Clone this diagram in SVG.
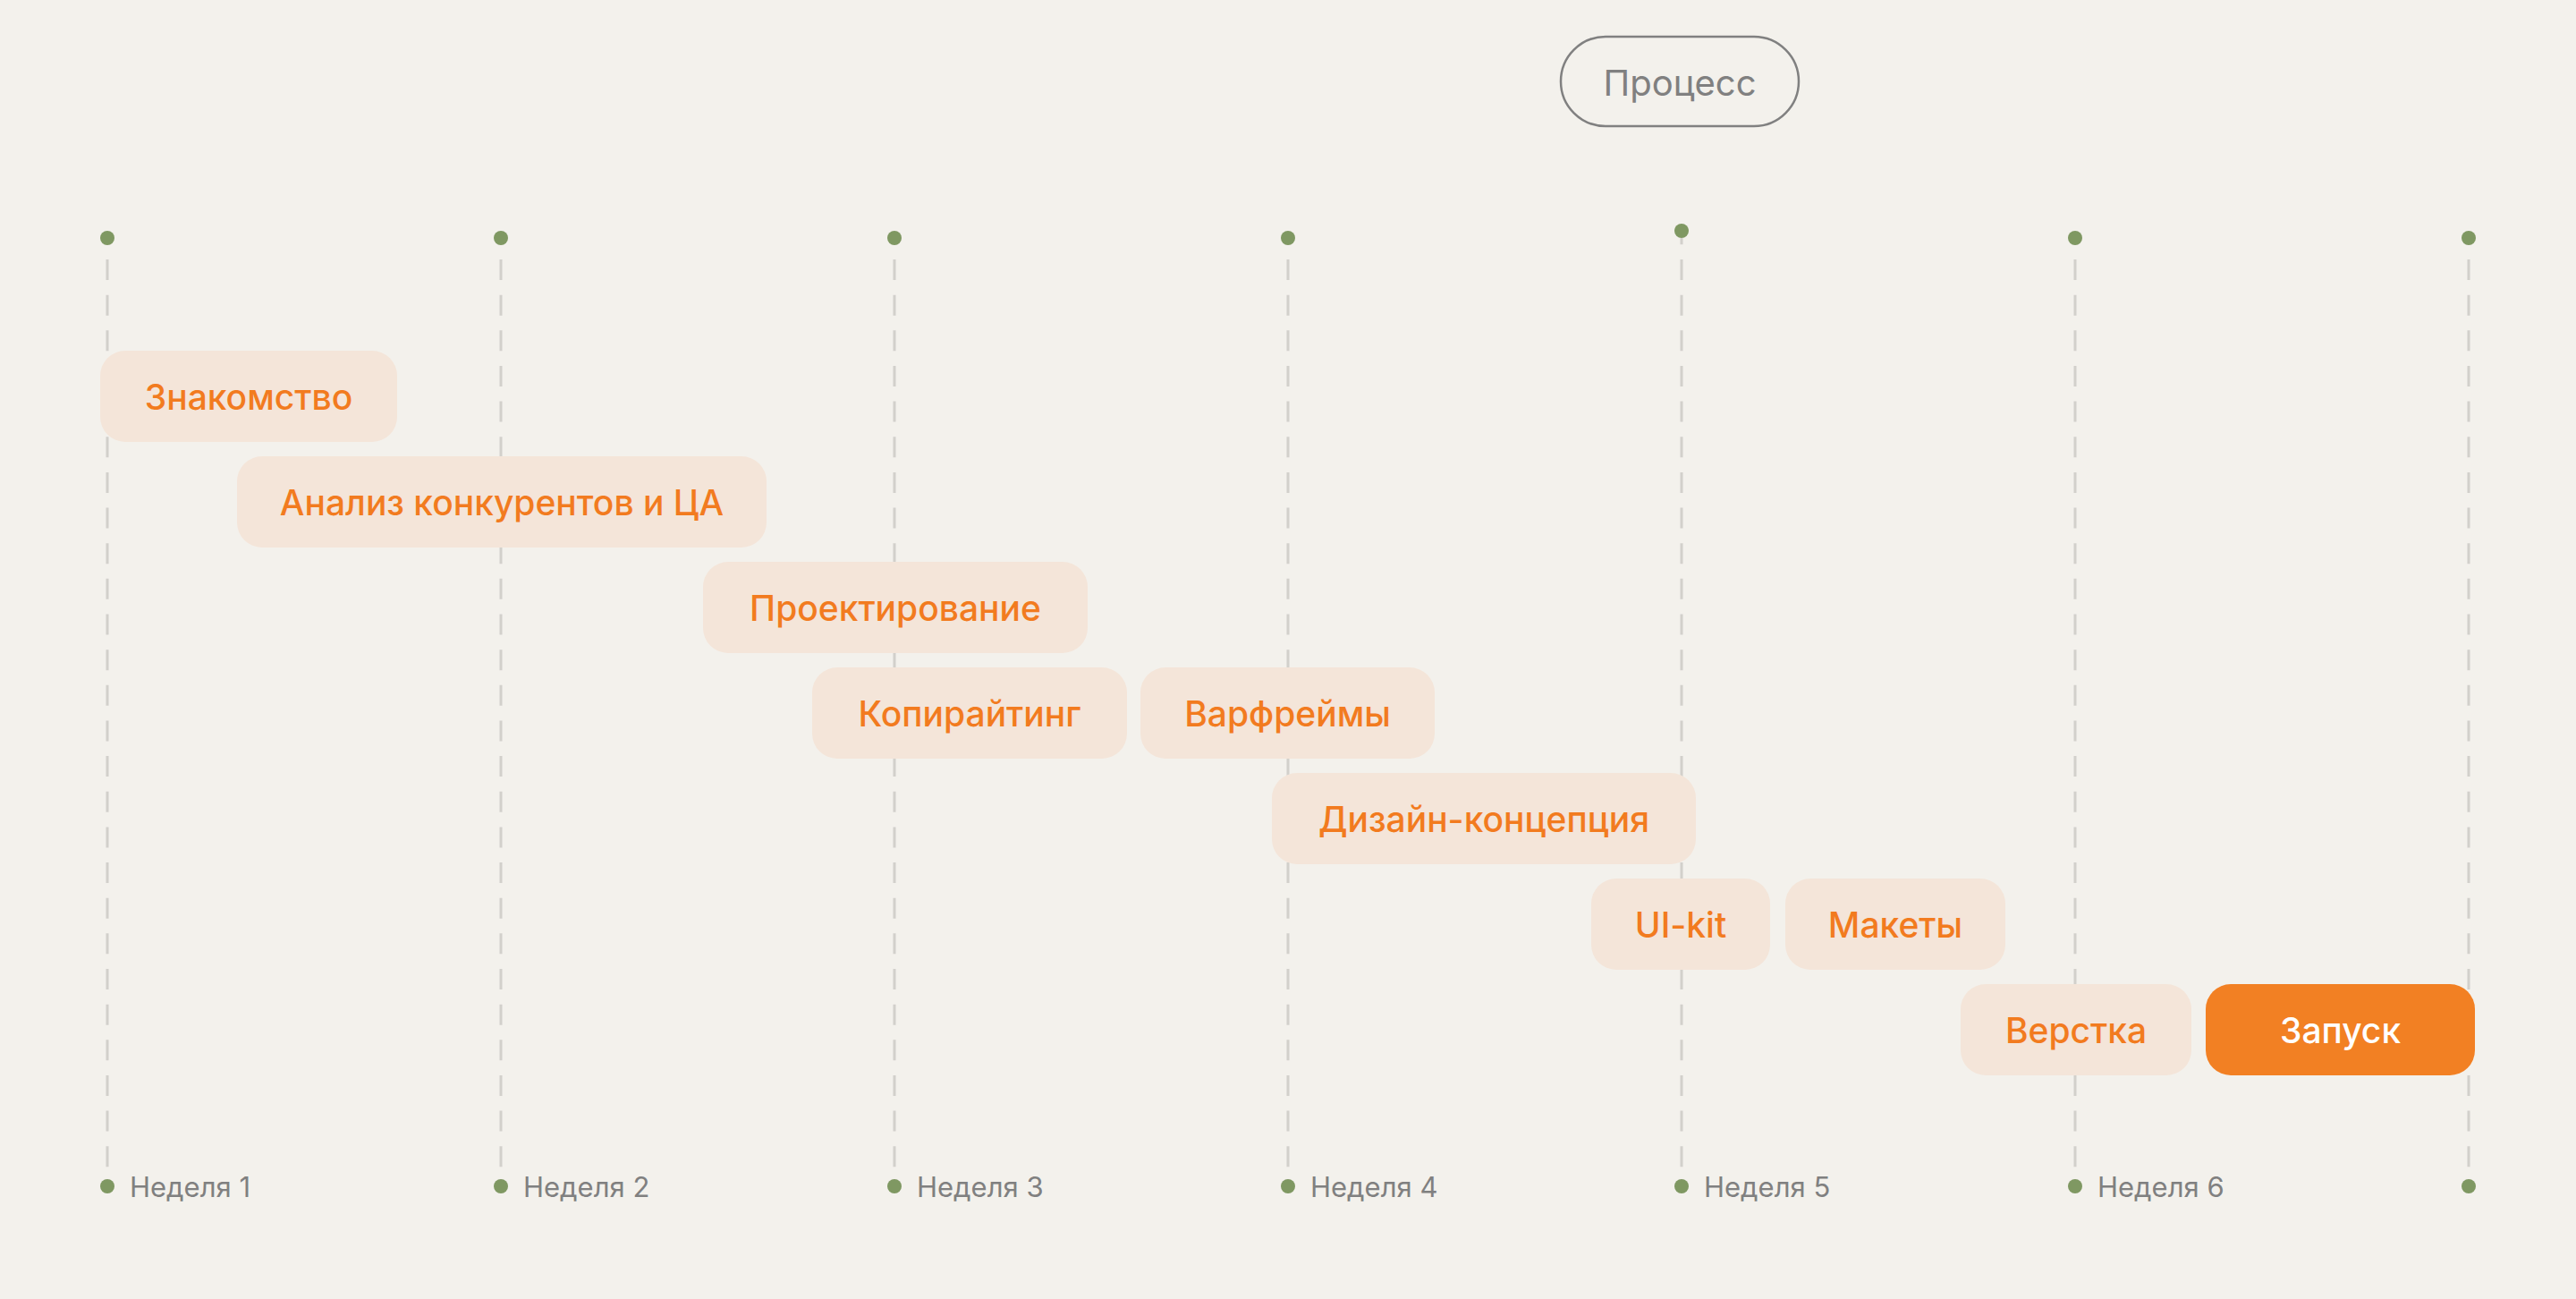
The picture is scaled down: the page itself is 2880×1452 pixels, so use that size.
<svg xmlns="http://www.w3.org/2000/svg" width="2880" height="1452" viewBox="0 0 2880 1452">
<style>
.bg{fill:#f3f1ec}
.grid{stroke:#d2d0cb;stroke-width:3;stroke-dasharray:23 16.65;stroke-dashoffset:15.65}
.dot{fill:#7f9862}
.bar{fill:#f4e5d9}
.bar-main{fill:#f28023}
.lbl{font-family:Inter,"Noto Sans","Liberation Sans",sans-serif;font-size:39px;font-weight:500;fill:#f27b1f;text-anchor:middle}
.lbl-main{fill:#ffffff}
.wk{font-family:Inter,"Noto Sans","Liberation Sans",sans-serif;font-size:31px;fill:#808080}
.pill{fill:none;stroke:#808080;stroke-width:2.5}
.ptxt{font-family:Inter,"Noto Sans","Liberation Sans",sans-serif;font-size:40px;fill:#808080;text-anchor:middle}
</style>
<rect class="bg" x="0" y="0" width="2880" height="1452"/>
<g id="connectors">
<line class="grid" x1="120" y1="266" x2="120" y2="1312"/>
<line class="grid" x1="560" y1="266" x2="560" y2="1312"/>
<line class="grid" x1="1000" y1="266" x2="1000" y2="1312"/>
<line class="grid" x1="1440" y1="266" x2="1440" y2="1312"/>
<line class="grid" x1="1880" y1="266" x2="1880" y2="1312"/>
<line class="grid" x1="2320" y1="266" x2="2320" y2="1312"/>
<line class="grid" x1="2760" y1="266" x2="2760" y2="1312"/>
</g>
<g id="top-dots">
<circle class="dot" cx="120" cy="266" r="8"/>
<circle class="dot" cx="560" cy="266" r="8"/>
<circle class="dot" cx="1000" cy="266" r="8"/>
<circle class="dot" cx="1440" cy="266" r="8"/>
<circle class="dot" cx="1880" cy="258" r="8"/>
<circle class="dot" cx="2320" cy="266" r="8"/>
<circle class="dot" cx="2760" cy="266" r="8"/>
</g>
<g id="process">
<rect class="pill" x="1745" y="41" width="266" height="100" rx="50"/>
<text class="ptxt" x="1878" y="107">Процесс</text>
</g>
<g id="task-znakomstvo">
<rect class="bar" x="112" y="392" width="332" height="102" rx="28"/>
<text class="lbl" x="278" y="458">Знакомство</text>
</g>
<g id="task-analiz">
<rect class="bar" x="265" y="510" width="592" height="102" rx="28"/>
<text class="lbl" x="561" y="576">Анализ конкурентов и ЦА</text>
</g>
<g id="task-proektirovanie">
<rect class="bar" x="786" y="628" width="430" height="102" rx="28"/>
<text class="lbl" x="1001" y="694">Проектирование</text>
</g>
<g id="task-kopirajting">
<rect class="bar" x="908" y="746" width="352" height="102" rx="28"/>
<text class="lbl" x="1084" y="812">Копирайтинг</text>
</g>
<g id="task-varfrejmy">
<rect class="bar" x="1275" y="746" width="329" height="102" rx="28"/>
<text class="lbl" x="1439.5" y="812">Варфреймы</text>
</g>
<g id="task-dizajn">
<rect class="bar" x="1422" y="864" width="474" height="102" rx="28"/>
<text class="lbl" x="1659" y="930">Дизайн-концепция</text>
</g>
<g id="task-uikit">
<rect class="bar" x="1779" y="982" width="200" height="102" rx="28"/>
<text class="lbl" x="1879" y="1048">UI-kit</text>
</g>
<g id="task-makety">
<rect class="bar" x="1996" y="982" width="246" height="102" rx="28"/>
<text class="lbl" x="2119" y="1048">Макеты</text>
</g>
<g id="task-verstka">
<rect class="bar" x="2192" y="1100" width="258" height="102" rx="28"/>
<text class="lbl" x="2321" y="1166">Верстка</text>
</g>
<g id="task-zapusk">
<rect class="bar-main" x="2466" y="1100" width="301" height="102" rx="28"/>
<text class="lbl lbl-main" x="2616.5" y="1166">Запуск</text>
</g>
<g id="weeks">
<circle class="dot" cx="120" cy="1326" r="8"/>
<text class="wk" x="145" y="1338">Неделя 1</text>
<circle class="dot" cx="560" cy="1326" r="8"/>
<text class="wk" x="585" y="1338">Неделя 2</text>
<circle class="dot" cx="1000" cy="1326" r="8"/>
<text class="wk" x="1025" y="1338">Неделя 3</text>
<circle class="dot" cx="1440" cy="1326" r="8"/>
<text class="wk" x="1465" y="1338">Неделя 4</text>
<circle class="dot" cx="1880" cy="1326" r="8"/>
<text class="wk" x="1905" y="1338">Неделя 5</text>
<circle class="dot" cx="2320" cy="1326" r="8"/>
<text class="wk" x="2345" y="1338">Неделя 6</text>
<circle class="dot" cx="2760" cy="1326" r="8"/>
</g>
</svg>
